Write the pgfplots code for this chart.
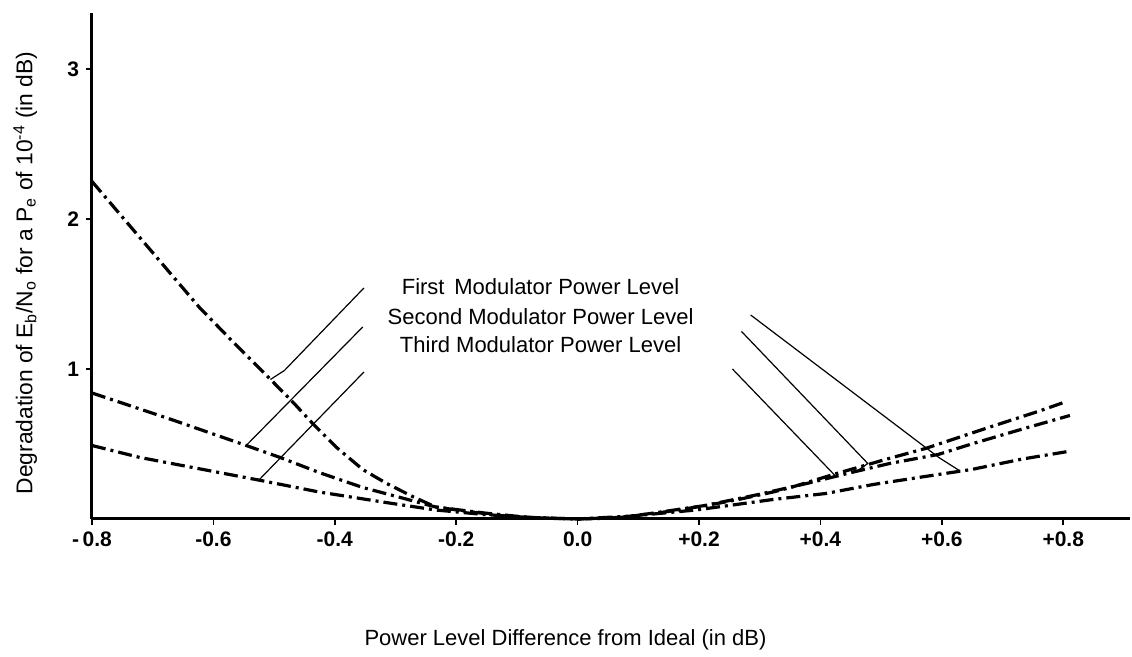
\documentclass[border=0pt]{standalone}
\usepackage{fontspec}
\setmainfont{Liberation Sans}
\usepackage{pgfplots}
\pgfplotsset{compat=1.18}
\begin{document}
\begin{tikzpicture}
\begin{axis}[
  scale only axis, width=519pt, height=253pt,
  xmin=-0.8, xmax=0.91, ymin=0, ymax=3.373,
  axis x line=bottom, axis y line=left,
  axis line style={-, line width=1.5pt},
  clip=false,
  xtick={-0.8,-0.6,-0.4,-0.2,0,0.2,0.4,0.6,0.8},
  xticklabels={-\,0.8,-0.6,-0.4,-0.2,0.0,+0.2,+0.4,+0.6,+0.8},
  ytick={1,2,3},
  yticklabels={1,2,3},
  tick align=outside, major tick length=3pt,
  tick style={line width=0.8pt, black},
  tick label style={font=\fontsize{10.5}{12}\selectfont\bfseries},
  curve/.style={black, mark=none, line width=1.6pt, dash pattern=on 7pt off 2.5pt on 1.5pt off 2.5pt},
  callout/.style={black, mark=none, line width=0.6pt},
]
% top curve (steep on the left, upper branch on the right)
\addplot[curve] coordinates {(-0.8,2.25) (-0.623,1.41) (-0.570,1.19) (-0.518,0.98) (-0.467,0.77) (-0.435,0.63) (-0.398,0.48) (-0.354,0.33) (-0.316,0.24) (-0.272,0.15) (-0.234,0.08) (-0.181,0.05) (-0.12,0.02) (-0.05,0.005) (0,0) (0.05,0.005) (0.092,0.02) (0.149,0.05) (0.212,0.09) (0.265,0.13) (0.322,0.18) (0.351,0.21) (0.424,0.30) (0.467,0.35) (0.51,0.40) (0.573,0.47) (0.677,0.61) (0.761,0.72) (0.803,0.78)};
% middle curve
\addplot[curve] coordinates {(-0.8,0.84) (-0.667,0.66) (-0.546,0.49) (-0.490,0.41) (-0.426,0.31) (-0.354,0.21) (-0.289,0.14) (-0.234,0.08) (-0.154,0.04) (-0.08,0.01) (0,0) (0.07,0.01) (0.126,0.04) (0.21,0.09) (0.294,0.16) (0.381,0.24) (0.451,0.31) (0.514,0.37) (0.594,0.43) (0.649,0.50) (0.733,0.60) (0.811,0.69)};
% bottom curve
\addplot[curve] coordinates {(-0.8,0.49) (-0.721,0.41) (-0.526,0.26) (-0.426,0.18) (-0.316,0.11) (-0.234,0.06) (-0.154,0.03) (-0.08,0.01) (0,0) (0.09,0.02) (0.195,0.06) (0.322,0.13) (0.409,0.17) (0.487,0.23) (0.567,0.28) (0.649,0.33) (0.733,0.40) (0.808,0.45)};
% callout lines, left
\addplot[callout] coordinates {(-0.352,1.54) (-0.483,0.99) (-0.506,0.93)};
\addplot[callout] coordinates {(-0.354,1.28) (-0.546,0.49)};
\addplot[callout] coordinates {(-0.352,0.98) (-0.525,0.26)};
% callout lines, right
\addplot[callout] coordinates {(0.285,1.36) (0.595,0.41) (0.63,0.32)};
\addplot[callout] coordinates {(0.27,1.25) (0.478,0.37) (0.464,0.33)};
\addplot[callout] coordinates {(0.255,1.0) (0.424,0.29)};
% labels
\node[font=\fontsize{11}{13}\selectfont] at (axis cs:-0.061,1.55) {First\, Modulator Power Level};
\node[font=\fontsize{11}{13}\selectfont] at (axis cs:-0.061,1.35) {Second Modulator Power Level};
\node[font=\fontsize{11}{13}\selectfont] at (axis cs:-0.061,1.16) {Third Modulator Power Level};
\node[font=\fontsize{11}{13}\selectfont] at (axis cs:-0.02,-0.807) {Power Level Difference from Ideal (in dB)};
\node[font=\fontsize{11.4}{13}\selectfont, rotate=90] at (axis cs:-0.910,1.64) {Degradation of E\textsubscript{b}/N\textsubscript{o} for a P\textsubscript{e} of 10\textsuperscript{-4} (in dB)};
\end{axis}
\pgfresetboundingbox
\path ([shift={(-46pt,-69pt)}]current axis.south west) rectangle ([shift={(520pt,259.5pt)}]current axis.south west);
\end{tikzpicture}
\end{document}
